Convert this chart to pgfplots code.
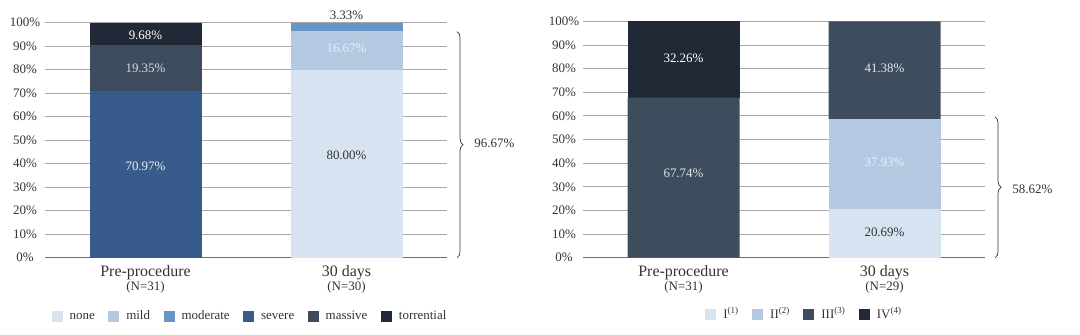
\documentclass[border=0pt]{standalone}
\usepackage{pgfplots}
\pgfplotsset{compat=1.18}
\usepackage{fontspec}
\setmainfont{Liberation Serif}
\usetikzlibrary{decorations.pathreplacing}
\definecolor{cnone}{HTML}{D7E3F1}
\definecolor{cmild}{HTML}{B4C9E1}
\definecolor{cmod}{HTML}{6695C8}
\definecolor{csev}{HTML}{375B8A}
\definecolor{cmass}{HTML}{3D4D5E}
\definecolor{ctorr}{HTML}{222936}
\definecolor{gridc}{HTML}{A8A8A8}
\definecolor{axc}{HTML}{6E6E6E}
\definecolor{txtd}{HTML}{333333}
\tikzset{lab/.style={font=\fontsize{13}{13}\selectfont}}
\pgfplotsset{
  mybar/.style={
    scale only axis, width=402bp, height=235bp,
    ybar stacked, bar width=112bp,
    xmin=-0.5, xmax=1.5, ymin=0, ymax=100,
    axis x line*=bottom, axis y line*=left,
    x axis line style={axc, line width=0.9pt, -},
    y axis line style={draw=none},
    ymajorgrids, grid style={gridc, line width=0.8pt},
    ytick={0,10,...,100}, xtick={0,1},
    yticklabels={0\%,10\%,20\%,30\%,40\%,50\%,60\%,70\%,80\%,90\%,100\%},
    yticklabel style={anchor=center, font=\fontsize{13}{13}\selectfont, text=txtd},
    major tick length=0pt,
    clip=false,
    every axis plot/.append style={draw=none},
    xticklabel style={align=center, text=txtd, yshift=-4.5bp},
    legend columns=-1,
    legend cell align=left,
    legend style={draw=none, fill=none, font=\fontsize{13}{13}\selectfont, text=txtd,
      nodes={text height=9.5bp, text depth=3bp},
      /tikz/every even column/.append style={column sep=11.5bp},
      /tikz/every odd column/.append style={column sep=5bp},
      inner sep=0pt},
    legend image code/.code={\fill[##1] (0bp,-5.5bp) rectangle (11bp,5.5bp);},
  },
}
\begin{document}
\begin{tikzpicture}
\useasboundingbox (0,0) rectangle (1080bp,-335bp);
% ---------------- left chart
\begin{axis}[mybar, at={(45bp,-257.7bp)}, anchor=south west,
  yticklabel style={xshift=-20bp},
  xticklabels={{\fontsize{16}{16}\selectfont Pre-procedure\\\fontsize{13}{17.5}\selectfont (N=31)},
               {\fontsize{16}{16}\selectfont 30 days\\\fontsize{13}{17.5}\selectfont (N=30)}},
  legend style={at={(0.51,-0.25)}, anchor=center},
  after end axis/.code={
    \node[lab, text=white!90!csev] at (axis cs:0,38.7) {70.97\%};
    \node[lab, text=white!80!cmass] at (axis cs:0,80.6) {19.35\%};
    \node[lab, text=white] at (axis cs:0,94.8) {9.68\%};
    \node[lab, text=txtd] at (axis cs:1,43.4) {80.00\%};
    \node[lab, text=white!70!cmild] at (axis cs:1,89.1) {16.67\%};
    \node[lab, text=txtd] at (axis cs:1,103.3) {3.33\%};
    \draw[txtd, line width=0.7pt, decorate, decoration={brace, amplitude=6bp}] (axis cs:1.55,96.2) -- (axis cs:1.55,0);
    \node[lab, text=txtd] at (axis cs:1.736,48.7) {96.67\%};
  },
]
\addplot[fill=cnone] coordinates {(0,0) (1,80.00)};
\addplot[fill=cmild] coordinates {(0,0) (1,16.67)};
\addplot[fill=cmod] coordinates {(0,0) (1,3.33)};
\addplot[fill=csev] coordinates {(0,70.97) (1,0)};
\addplot[fill=cmass] coordinates {(0,19.35) (1,0)};
\addplot[fill=ctorr] coordinates {(0,9.68) (1,0)};
\legend{none,mild,moderate,severe,massive,torrential}
\end{axis}
% ---------------- right chart
\begin{axis}[mybar, at={(583bp,-257.7bp)}, anchor=south west, height=236.4bp,
  yticklabel style={xshift=-19bp},
  xticklabels={{\fontsize{16}{16}\selectfont Pre-procedure\\\fontsize{13}{17.5}\selectfont (N=31)},
               {\fontsize{16}{16}\selectfont 30 days\\\fontsize{13}{17.5}\selectfont (N=29)}},
  legend style={at={(0.551,-0.242)}, anchor=center},
  after end axis/.code={
    \node[lab, text=white!85!cmass] at (axis cs:0,35.7) {67.74\%};
    \node[lab, text=white] at (axis cs:0,84.3) {32.26\%};
    \node[lab, text=white!85!cmass] at (axis cs:1,80.1) {41.38\%};
    \node[lab, text=white!70!cmild] at (axis cs:1,40.2) {37.93\%};
    \node[lab, text=txtd] at (axis cs:1,10.7) {20.69\%};
    \draw[txtd, line width=0.7pt, decorate, decoration={brace, amplitude=6bp}] (axis cs:1.55,59.6) -- (axis cs:1.55,0);
    \node[lab, text=txtd] at (axis cs:1.736,28.9) {58.62\%};
  },
]
\addplot[fill=cnone] coordinates {(0,0) (1,20.69)};
\addplot[fill=cmild] coordinates {(0,0) (1,37.93)};
\addplot[fill=cmass] coordinates {(0,67.74) (1,41.38)};
\addplot[fill=ctorr] coordinates {(0,32.26) (1,0)};
\legend{I\textsuperscript{(1)},II\textsuperscript{(2)},III\textsuperscript{(3)},IV\textsuperscript{(4)}}
\end{axis}
\end{tikzpicture}
\end{document}
